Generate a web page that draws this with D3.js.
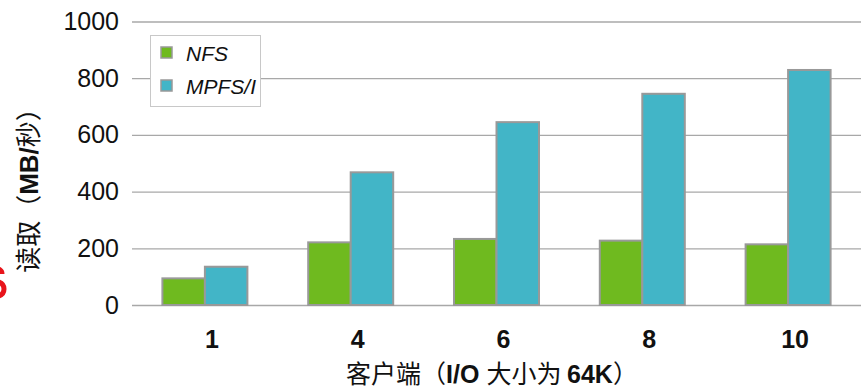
<!DOCTYPE html>
<html>
<head>
<meta charset="utf-8">
<script src="https://cdn.jsdelivr.net/npm/d3@7"></script>
<style>
  html, body { margin: 0; padding: 0; background: #fff; }
  svg { display: block; }
  text { font-family: "Liberation Sans", Arial, "Noto Sans CJK SC", sans-serif; }
</style>
</head>
<body>
<script>
// Read throughput by client count (I/O size 64K)
const categories = ["1", "4", "6", "8", "10"];
const nfsValues = [94, 221, 233, 227, 214];
const mpfsValues = [135, 468, 645, 745, 829];
const seriesNames = ["NFS", "MPFS/I"];
const seriesColors = ["#6fba1f", "#42b5c7"];
const yTicks = [0, 200, 400, 600, 800, 1000];

const W = 861, H = 392;
const svg = d3.select("body").append("svg").attr("width", W).attr("height", H);

const x = d3.scaleBand().domain(categories).range([132, 861]).paddingInner(0.417).paddingOuter(0.2085);
const sub = d3.scaleBand().domain(seriesNames).range([0, x.bandwidth()]);
const y = d3.scaleLinear().domain([0, 1000]).range([305, 21.5]);

// red accent stroke at the left margin
svg.append("path")
  .attr("d", "M -6 269 Q 2 268 2 274 M -6 281 Q 4 282 4 289 Q 4 296 -6 297")
  .attr("fill", "none").attr("stroke", "#e8141b").attr("stroke-width", 5);

// horizontal grid + y tick labels
const yAxis = d3.axisLeft(y).tickValues(yTicks).tickFormat(d3.format("d"))
  .tickSize(-(W - 132)).tickPadding(13);
const gy = svg.append("g").attr("transform", "translate(132,0)").call(yAxis);
gy.select(".domain").remove();
gy.selectAll(".tick line").attr("stroke", "#a8a8a8").attr("stroke-width", 1.3);
gy.selectAll(".tick text").attr("fill", "#111").style("font-size", "25px")
  .style("font-family", "'Liberation Sans', Arial, sans-serif");

// bars
const rows = categories.map((c, i) => ({ c, vals: [nfsValues[i], mpfsValues[i]] }));
const groups = svg.append("g").selectAll("g").data(rows).join("g")
  .attr("transform", d => `translate(${x(d.c)},0)`);
groups.selectAll("rect").data(d => d.vals.map((v, k) => ({ v, k })))
  .join("rect")
  .attr("x", d => sub(seriesNames[d.k]))
  .attr("width", sub.bandwidth())
  .attr("y", d => y(d.v))
  .attr("height", d => y(0) - y(d.v))
  .attr("fill", d => seriesColors[d.k])
  .attr("stroke", "#999")
  .attr("stroke-width", 2);

// x category labels
const xAxis = d3.axisBottom(x).tickSize(0).tickPadding(0);
const gx = svg.append("g").attr("transform", "translate(7,330)").call(xAxis);
gx.select(".domain").remove();
gx.selectAll(".tick text").attr("fill", "#111").attr("dy", "0.71em")
  .style("font-size", "25px").style("font-weight", "bold")
  .style("font-family", "'Liberation Sans', Arial, sans-serif");

// legend
const lg = svg.append("g");
lg.append("rect").attr("x", 150.5).attr("y", 35.5).attr("width", 110).attr("height", 71)
  .attr("fill", "#fff").attr("stroke", "#c8c8c8").attr("stroke-width", 1);
seriesNames.forEach((name, k) => {
  const yy = 47 + k * 33;
  lg.append("rect").attr("x", 161).attr("y", yy).attr("width", 11).attr("height", 11)
    .attr("fill", seriesColors[k]).attr("stroke", "#999").attr("stroke-width", 1.5);
  lg.append("text").attr("x", 186).attr("y", yy + 14).attr("fill", "#111")
    .style("font-size", "21px").style("font-style", "italic").text(name);
});

// axis titles
const yt = svg.append("text").attr("transform", "translate(38,184) rotate(-90)")
  .attr("text-anchor", "middle").attr("fill", "#111").style("font-size", "26px")
  .style("font-family", "'Noto Sans CJK SC', 'Liberation Sans', sans-serif");
yt.append("tspan").text("读取（");
yt.append("tspan").style("font-weight", "bold").style("font-family", "'Liberation Sans', Arial, sans-serif").text("MB/");
yt.append("tspan").text("秒）");

const xt = svg.append("text").attr("x", 492).attr("y", 383)
  .attr("text-anchor", "middle").attr("fill", "#111").style("font-size", "25px")
  .style("font-family", "'Noto Sans CJK SC', 'Liberation Sans', sans-serif");
xt.append("tspan").text("客户端（");
xt.append("tspan").style("font-weight", "bold").style("font-family", "'Liberation Sans', Arial, sans-serif").text("I/O ");
xt.append("tspan").text("大小为 ");
xt.append("tspan").style("font-weight", "bold").style("font-family", "'Liberation Sans', Arial, sans-serif").text("64K");
xt.append("tspan").text("）");
</script>
</body>
</html>
